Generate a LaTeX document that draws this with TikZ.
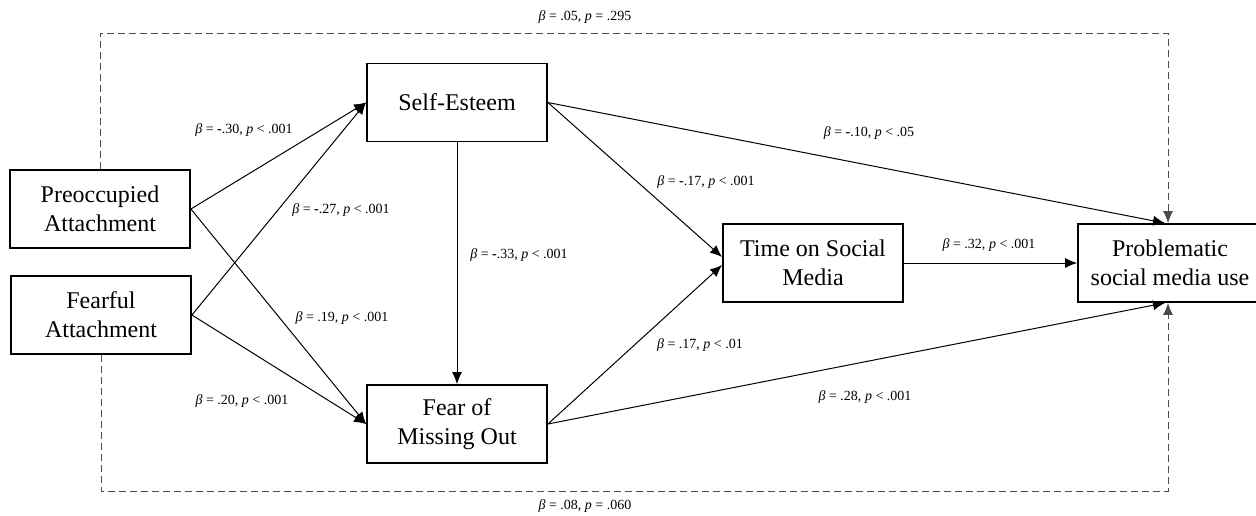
\documentclass[tikz,border=0pt]{standalone}
\usepackage{fontspec}
\setmainfont{Liberation Serif}
\usetikzlibrary{arrows.meta}

\tikzset{
    varbox/.style={draw, line width=0.9pt, minimum width=90pt, minimum height=39pt,
        inner sep=0pt, align=center, font=\fontsize{12}{14.5}\selectfont},
    effect/.style={-{Latex[length=6pt,width=5pt]}, line width=0.5pt},
    direct/.style={effect, draw=black!70, dash pattern=on 3.5pt off 2pt},
    coef/.style={font=\fontsize{7}{8}\selectfont, inner sep=0pt}
}
\newcommand{\bet}{\textit{β}}
\newcommand{\mneg}{{\bfseries -}}

\begin{document}
\begin{tikzpicture}[x=0.5pt, y=-0.5pt]

        \useasboundingbox (0, 0) rectangle (1256, 515);

        % variables
        \node[varbox] (Preoc) at (100, 209) {Preoccupied\\Attachment};
        \node[varbox] (Fear) at (101, 315) {Fearful\\Attachment};
        \node[varbox] (SE) at (457, 102.5) {Self-Esteem};
        \node[varbox] (FoMO) at (457, 424) {Fear of\\Missing Out};
        \node[varbox] (Time) at (813, 263) {Time on Social\\Media};
        \node[varbox, minimum width=92pt] (PSMU) at (1170, 263) {Problematic\\social media use};

        % paths
        \draw[effect] (Preoc.east) -- (SE.west);
        \draw[effect] (Fear.east) -- (SE.west);
        \draw[effect] (Preoc.east) -- (FoMO.west);
        \draw[effect] (Fear.east) -- (FoMO.west);
        \draw[effect] (SE.south) -- (FoMO.north);
        \draw[effect] (SE.east) -- ([yshift=3pt]Time.west);
        \draw[effect] (FoMO.east) -- ([yshift=-1pt]Time.west);
        \draw[effect] (SE.east) -- ([xshift=-2.5pt]PSMU.north);
        \draw[effect] (FoMO.east) -- ([xshift=-2.5pt]PSMU.south);
        \draw[effect] (Time.east) -- (PSMU.west);

        % direct effects (dashed)
        \coordinate (tl) at (100, 33);
        \coordinate (tr) at (1168, 33);
        \coordinate (bl) at (101, 491);
        \coordinate (br) at (1168, 491);
        \draw[direct] (Preoc.north) -- (tl) -- (tr) -- (tr |- PSMU.north);
        \draw[direct] (Fear.south) -- (bl) -- (br) -- (br |- PSMU.south);

        % coefficients
        \node[coef] (c1) at (244, 130) {\bet{} = \mneg.30, \textit{p} < .001};
        \node[coef] (c2) at (341, 210) {\bet{} = \mneg.27, \textit{p} < .001};
        \node[coef] (c3) at (342, 318) {\bet{} = .19, \textit{p} < .001};
        \node[coef] (c4) at (242, 401) {\bet{} = .20, \textit{p} < .001};
        \node[coef] (c5) at (519, 255) {\bet{} = \mneg.33, \textit{p} < .001};
        \node[coef] (c6) at (706, 182) {\bet{} = \mneg.17, \textit{p} < .001};
        \node[coef] (c7) at (700, 345) {\bet{} = .17, \textit{p} < .01};
        \node[coef] (c8) at (869, 133) {\bet{} = \mneg.10, \textit{p} < .05};
        \node[coef] (c9) at (989, 245) {\bet{} = .32, \textit{p} < .001};
        \node[coef] (c10) at (865, 397) {\bet{} = .28, \textit{p} < .001};
        \node[coef] (c11) at (585, 17) {\bet{} = .05, \textit{p} = .295};
        \node[coef] (c12) at (585, 506) {\bet{} = .08, \textit{p} = .060};

\end{tikzpicture}
\end{document}
